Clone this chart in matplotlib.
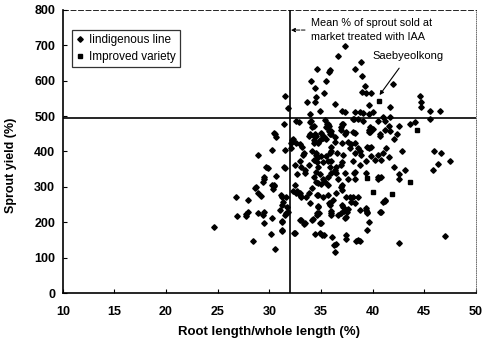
import matplotlib
matplotlib.use('Agg')
import matplotlib.pyplot as plt

plt.rcParams['font.family'] = ['Liberation Sans', 'DejaVu Sans']

# root length / whole length (%), sprout yield (%)
indig_x = [24.6, 26.8, 26.9, 27.7, 27.9, 28.9, 29.5, 29.5, 28.4, 30.2, 30.6, 30.3, 31.2, 31.2, 31.0, 31.2,
           31.5, 31.8, 32.5, 33.0, 33.4, 34.2, 34.4, 34.9, 35.1, 35.3, 34.9, 34.6, 34.8, 33.9, 34.7, 36.0,
           35.8, 36.0, 36.1, 36.5, 36.4,
           37.4, 37.6, 37.2, 37.5, 37.0, 36.7, 37.3, 38.3, 38.8, 39.4, 39.5, 40.7, 39.7, 41.0, 37.4, 37.4,
           38.4, 38.8, 42.6, 47.0,
           36.0, 36.4, 36.0, 35.9, 36.0, 36.5, 36.4, 37.0, 37.1, 37.0, 37.4, 37.9, 38.3, 38.1, 37.6, 37.0,
           36.5, 36.2, 37.4, 37.9, 38.6, 38.2, 38.9, 39.4, 39.9, 39.9, 39.7, 40.5, 40.7, 40.8, 41.0, 41.3,
           41.6, 41.2, 42.1, 42.4, 42.1, 42.6, 42.6, 43.1, 42.9, 46.0, 46.6, 47.5, 46.3, 45.9,
           30.6, 30.7, 30.3, 28.9, 29.7, 29.9, 29.5, 29.4, 30.7, 31.5, 30.5, 30.4, 28.6, 28.9, 29.2, 27.9,
           31.1, 31.6, 32.1, 32.3, 33.0, 32.5, 32.5, 32.7, 33.0, 33.3, 33.0, 33.5, 33.8, 34.3, 34.5, 34.3,
           34.7, 35.2, 35.5, 34.5, 34.3, 34.6, 34.5, 35.2, 35.4, 33.8, 34.6, 35.2, 35.9, 35.9,
           37.3, 36.7, 38.9, 34.6, 35.8, 35.9, 38.3, 39.0, 34.0, 35.5, 34.4, 35.3, 34.5, 33.7, 34.4, 36.4,
           31.5, 31.8, 34.9, 33.9, 42.0, 39.3, 39.0, 39.4, 39.9, 39.7, 41.7, 44.6, 44.7, 44.7, 45.6, 46.5,
           37.0, 37.3, 38.3, 38.8, 39.1, 39.7, 40.0, 41.0, 41.2, 41.7,
           31.4, 32.6, 32.9, 33.9, 34.3, 35.4, 35.6, 30.5, 33.9, 34.4, 35.3, 35.9, 38.2, 37.1, 36.9, 38.3,
           39.7, 39.8, 40.7, 41.6, 41.7, 42.6, 43.6, 44.1, 45.6, 35.8, 35.8, 36.4,
           41.2, 40.8, 38.6, 36.3, 35.0, 32.3, 32.6, 33.1, 32.4, 31.2, 31.2, 29.4, 27.7, 28.7, 30.3, 30.5,
           29.5, 31.7, 31.2,
           32.2, 32.1, 32.6, 33.4, 33.2, 34.1, 34.0, 35.0, 34.3, 34.9, 35.2, 35.5, 35.7, 36.0, 36.9, 37.0,
           37.3, 37.6, 38.1, 38.3, 37.8, 38.6, 38.8, 36.0, 36.6, 35.5, 35.7, 35.0, 34.5, 34.7, 34.1, 35.9,
           36.9, 36.4, 34.7, 33.8, 33.1, 32.7, 33.5, 34.3, 34.9, 37.3, 38.3, 38.8, 39.4, 39.5, 39.7, 39.8,
           40.0, 40.5, 39.1, 38.6, 38.1, 40.5, 40.2, 41.2, 40.8, 31.4, 31.5,
           33.0, 31.3, 31.6, 33.1, 33.5, 34.1, 34.6, 34.7, 33.6, 34.1, 34.5, 34.7, 35.0, 35.2, 35.7, 35.7,
           36.0, 36.5, 36.7, 36.9, 37.0, 38.3, 35.7, 34.7, 37.1, 37.8, 38.1, 39.4, 39.5, 37.4, 36.9, 36.0,
           40.5, 39.5]
indig_y = [187, 272, 218, 224, 230, 227, 230, 199, 148, 167, 125, 213, 204, 176, 235, 250,
           221, 230, 170, 207, 196, 210, 167, 170, 165, 164, 199, 227, 227, 255, 247, 221,
           255, 233, 159, 139, 116,
           235, 238, 232, 228, 250, 221, 213, 255, 235, 235, 227, 230, 201, 258, 165, 153,
           148, 148, 142, 162,
           457, 428, 414, 397, 372, 357, 343, 369, 391, 425, 454, 420, 397, 372, 321, 306,
           284, 264, 270, 258, 270, 340, 391, 340, 386, 414, 454, 329, 448, 377, 397, 411,
           383, 264, 434, 448, 355, 335, 321, 349, 400, 400, 397, 372, 366, 349,
           448, 441, 403, 389, 357, 352, 329, 315, 332, 352, 306, 295, 298, 284, 275, 264,
           278, 270, 425, 434, 420, 363, 306, 287, 284, 391, 372, 349, 445, 445, 445, 425,
           425, 443, 434, 397, 377, 369, 343, 369, 315, 284, 278, 270, 255, 250,
           698, 670, 653, 633, 624, 630, 633, 613, 599, 599, 579, 565, 553, 539, 539, 533,
           556, 522, 513, 505, 590, 584, 567, 565, 565, 530, 525, 556, 539, 525, 513, 513,
           513, 511, 511, 511, 508, 505, 511, 496, 485, 496,
           479, 485, 482, 482, 471, 488, 479, 451, 448, 448, 441, 448, 491, 477, 462, 451,
           462, 454, 445, 471, 457, 471, 479, 482, 491, 471, 457, 440,
           261, 230, 150, 136, 199, 287, 284, 272, 170, 179, 201, 221, 218, 301, 306, 303,
           323, 244, 272,
           431, 411, 423, 397, 414, 468, 485, 452, 431, 431, 437, 468, 477, 448, 468, 477,
           448, 428, 454, 425, 411, 411, 400, 400, 397, 386, 372, 386, 391, 383, 400, 357,
           363, 349, 355, 363, 355, 335, 338, 329, 335, 340, 343, 363, 372, 414, 411, 468,
           463, 485, 485, 491, 491, 391, 377, 462, 329, 355, 403,
           278, 258, 227, 207, 199, 207, 221, 244, 272, 298, 315, 312, 309, 321, 329, 306,
           340, 340, 321, 301, 292, 321, 278, 278, 244, 270, 272, 241, 230, 216, 227, 227,
           321, 179]

improved_x = [40.6, 44.3, 43.6, 41.9, 40.0, 39.5]
improved_y = [542, 460, 315, 281, 285, 325]

mean_iaa_x = 32.0
mean_iaa_y = 495

fig = plt.figure(figsize=(4.83, 3.40), dpi=100)
ax = fig.add_axes([0.130, 0.138, 0.855, 0.833])

ax.plot(indig_x, indig_y, 'D', color='black', markersize=2.8, ls='', label='Iindigenous line')
ax.plot(improved_x, improved_y, 's', color='black', markersize=3.4, ls='', label='Improved variety')

ax.axvline(mean_iaa_x, color='black', lw=1.2)
ax.axhline(mean_iaa_y, color='black', lw=1.2)

ax.set_xlim(10, 50)
ax.set_ylim(0, 800)
ax.set_xticks(range(10, 51, 5))
ax.set_yticks(range(0, 801, 100))
ax.tick_params(direction='in', length=3, labelsize=9, width=0.8)
ax.tick_params(axis='x', pad=9)
ax.tick_params(axis='y', pad=5.5)
for lab in ax.get_xticklabels() + ax.get_yticklabels():
    lab.set_fontweight('bold')

ax.spines['left'].set_linewidth(1.2)
ax.spines['bottom'].set_linewidth(1.2)
ax.spines['top'].set_linestyle((0, (6, 3)))
ax.spines['top'].set_linewidth(0.6)
ax.spines['right'].set_linestyle(':')
ax.spines['right'].set_linewidth(0.6)
ax.spines['right'].set_color('#555555')

ax.set_xlabel('Root length/whole length (%)', fontsize=9.5, fontweight='bold', labelpad=6)
ax.set_ylabel('Sprout yield (%)', fontsize=9, fontweight='bold')
ax.yaxis.set_label_coords(-0.112, 0.45)

ax.annotate('Mean % of sprout sold at\nmarket treated with IAA', xy=(32.1, 743), xytext=(34.0, 743),
            fontsize=7.8, va='center', ha='left', linespacing=1.5,
            arrowprops=dict(arrowstyle='-|>', color='black', lw=0.7, ls='--',
                            mutation_scale=6, shrinkA=2, shrinkB=0))
ax.annotate('Saebyeolkong', xy=(40.6, 556), xytext=(40.0, 670), fontsize=8, ha='left', va='center',
            arrowprops=dict(arrowstyle='-|>', color='black', lw=0.8, mutation_scale=6,
                            shrinkA=4, shrinkB=1))

leg = ax.legend(loc='upper left', bbox_to_anchor=(0.022, 0.929), fontsize=8.5, frameon=True,
                fancybox=False, edgecolor='black', handlelength=0.6, handletextpad=0.5,
                borderpad=0.35, labelspacing=0.4, borderaxespad=0)
leg.get_frame().set_linewidth(0.9)

fig.savefig('out.png', dpi=100)
